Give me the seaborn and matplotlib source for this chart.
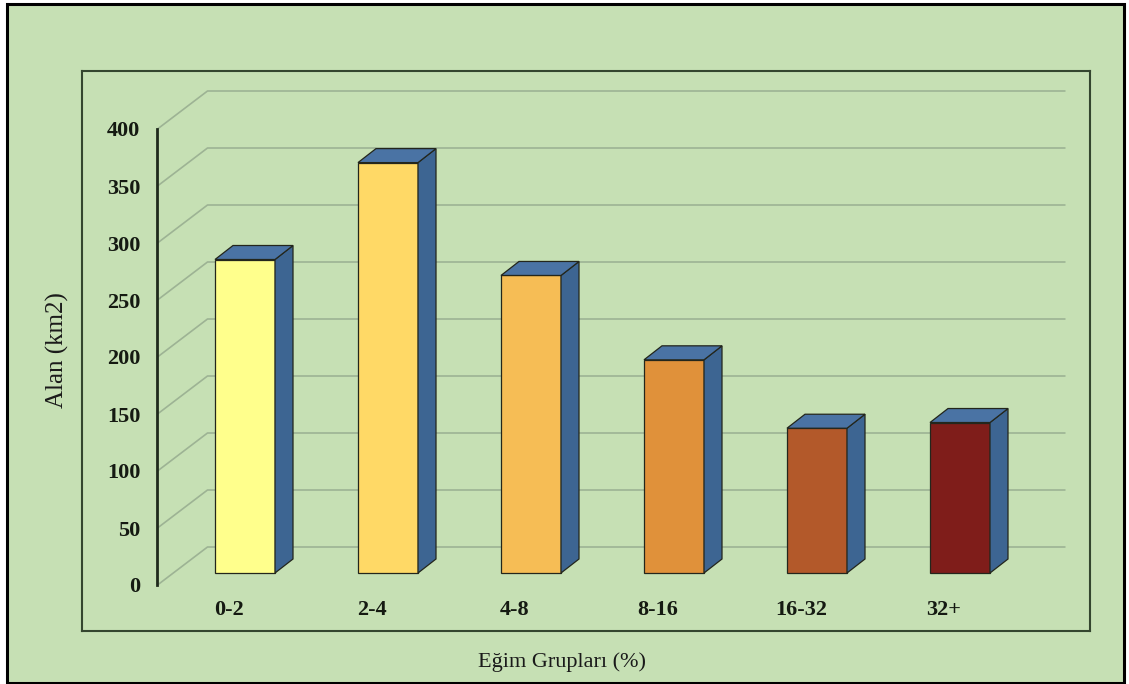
import matplotlib
matplotlib.use("Agg")
import matplotlib.pyplot as plt
import seaborn as sns
from matplotlib.patches import Polygon, Rectangle

# ---- data -------------------------------------------------------------
categories = ["0-2", "2-4", "4-8", "8-16", "16-32", "32+"]
areas = [275, 360, 261, 187, 127, 132]
bar_colors = ["#FFFF8C", "#FFD966", "#F6BD55", "#E0913A", "#B3592A", "#7F1D1A"]
y_ticks = [0, 50, 100, 150, 200, 250, 300, 350, 400]
y_title = "Alan (km2)"
x_title = "Eğim Grupları (%)"

# ---- styling / layout (pixels) ----------------------------------------
W, H, DPI = 1129, 684, 100
GREEN = "#C6E0B4"
GRID = "#9DB394"
SIDE = "#3D6592"
TOP = "#4A73A4"
EDGE = "#23261c"
SERIF = ["Liberation Serif", "DejaVu Serif"]

PITCH = 143.0      # px between category centres
X0 = 245.0         # px of first category centre
BASE = 573.0       # px of value 0 on the bar plane
SCALE = 1.14       # px per unit of value
BOX = (82, 71, 1090, 631)   # inner plot box: left, top, right, bottom

fig = plt.figure(figsize=(W / DPI, H / DPI), dpi=DPI, facecolor="white")

# outer black frame on green ground
fig.add_artist(Rectangle((6.5 / W, 1.5 / H), (1123.5 - 6.5) / W, (680.5 - 1.5) / H,
                         transform=fig.transFigure, facecolor=GREEN,
                         edgecolor="black", lw=2.2, zorder=0))

l, t, r, b = BOX
ax = fig.add_axes([l / W, (H - b) / H, (r - l) / W, (b - t) / H])
ax.set_facecolor(GREEN)

sns.barplot(x=categories, y=areas, hue=categories, palette=bar_colors,
            saturation=1, width=60 / PITCH, edgecolor=EDGE, linewidth=0.9,
            legend=False, ax=ax, zorder=3)

ax.set_xlim((l - X0) / PITCH, (r - X0) / PITCH)
ax.set_ylim((BASE - b) / SCALE, (BASE - t) / SCALE)
ax.set_xticks([])
ax.set_yticks([])
ax.set_xlabel("")
ax.set_ylabel("")
for s in ax.spines.values():
    s.set_color("#34462F")
    s.set_linewidth(1.5)


def depth(dx_px, dy_px):
    """Oblique depth shift given in pixels, returned in data units."""
    return dx_px / PITCH, dy_px / SCALE


side = depth(18, 14)
front = depth(-16, -12)
back = depth(34, 26)
x_left, x_right = -0.5, len(categories) - 0.5

# back wall gridlines with their diagonal run to the front plane
for v in y_ticks:
    ax.plot([x_left + front[0], x_left + back[0], x_right + back[0]],
            [v + front[1], v + back[1], v + back[1]],
            color=GRID, lw=1.2, zorder=1, solid_capstyle="butt")

# value axis on the front plane
ax.plot([x_left + front[0]] * 2, [y_ticks[0] + front[1], y_ticks[-1] + front[1]],
        color="#1f2a1c", lw=2.0, zorder=2)

for v in y_ticks:
    ax.text(x_left + front[0] - 17 / PITCH, v + front[1], str(v),
            ha="right", va="center_baseline", fontsize=16, fontweight="bold",
            family=SERIF, color="#151a12")

# 3-D side and top faces on every bar drawn by seaborn
for bar in list(ax.patches):
    x0, w, h = bar.get_x(), bar.get_width(), bar.get_height()
    x1 = x0 + w
    sx, sy = side
    ax.add_patch(Polygon([(x1, 0), (x1 + sx, sy), (x1 + sx, h + sy), (x1, h)],
                         closed=True, facecolor=SIDE, edgecolor=EDGE, lw=0.9, zorder=3))
    ax.add_patch(Polygon([(x0, h), (x1, h), (x1 + sx, h + sy), (x0 + sx, h + sy)],
                         closed=True, facecolor=TOP, edgecolor=EDGE, lw=0.9, zorder=3))

for i, cat in enumerate(categories):
    ax.text(i + front[0], -37 / SCALE, cat, ha="center", va="center",
            fontsize=16, fontweight="bold", family=SERIF, color="#151a12")

fig.text(57 / W, 1 - 350 / H, y_title, rotation=90, ha="center", va="center",
         fontsize=18, family=SERIF, color="#1a1a1a")
fig.text(562 / W, 1 - 662 / H, x_title, ha="center", va="center",
         fontsize=16, family=SERIF, color="#1a1a1a")

fig.savefig("out.png", dpi=DPI, facecolor=fig.get_facecolor())
